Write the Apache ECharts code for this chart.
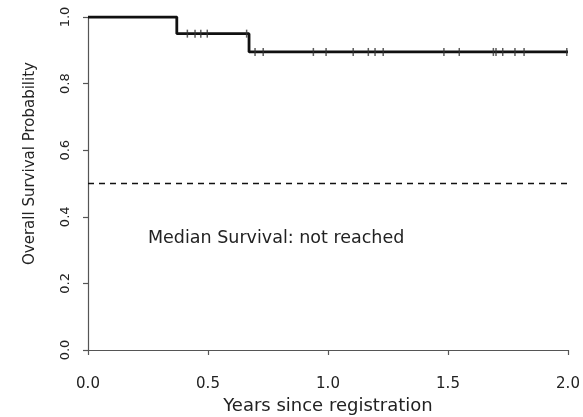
<!DOCTYPE html>
<html>
<head>
<meta charset="utf-8">
<script src="https://cdn.jsdelivr.net/npm/echarts@6/dist/echarts.min.js"></script>
<style>
  html, body { margin: 0; padding: 0; background: #fff; }
  #chart { width: 583px; height: 417px; }
</style>
</head>
<body>
<div id="chart"></div>
<script>
// Kaplan-Meier curve: times (years) where the step changes and the survival after it
const stepTimes = [0, 0.37, 0.671, 2.0]
const stepSurvival = [1.0, 0.95, 0.895, 0.895]
// censored patients (years since registration)
const censorTimes = [0.414, 0.446, 0.47, 0.497, 0.661, 0.696, 0.73, 0.939, 0.992, 1.105, 1.168,
  1.196, 1.23, 1.483, 1.547, 1.689, 1.70, 1.728, 1.779, 1.817, 1.995]
const xTickLabels = ['0.0', '0.5', '1.0', '1.5', '2.0']
const yTickLabels = ['0.0', '0.2', '0.4', '0.6', '0.8', '1.0']
const medianLevel = 0.5
const medianNote = 'Median Survival: not reached'

const font = 'DejaVu Sans'
const textColor = '#222'
const axisColor = '#555'

// survival level in force at time t
function survivalAt(t) {
  let s = stepSurvival[0]
  stepTimes.forEach((st, i) => {
    if (st <= t) s = stepSurvival[i]
  })
  return s
}

const chart = echarts.init(document.getElementById('chart'))
chart.setOption({
  animation: false,
  backgroundColor: '#fff',
  grid: {
    left: 88,
    right: 15,
    top: 17,
    bottom: 67,
    outerBoundsMode: 'none'
  },
  xAxis: {
    type: 'value',
    min: 0,
    max: 2,
    interval: 0.5,
    offset: 17,
    name: 'Years since registration',
    nameLocation: 'middle',
    nameGap: 28,
    nameTextStyle: { fontFamily: font, fontSize: 18, color: textColor },
    axisLine: { show: true, lineStyle: { color: axisColor, width: 1.2 } },
    axisTick: { show: true, length: 5, lineStyle: { color: axisColor, width: 1.2 } },
    splitLine: { show: false },
    axisLabel: {
      margin: 10,
      fontFamily: font,
      fontSize: 15,
      color: textColor,
      formatter: v => xTickLabels[Math.round(v / 0.5)]
    }
  },
  yAxis: {
    type: 'value',
    min: 0,
    max: 1,
    interval: 0.2,
    name: 'Overall Survival Probability',
    nameLocation: 'middle',
    nameGap: 50,
    nameRotate: 90,
    nameTextStyle: { fontFamily: font, fontSize: 15, color: textColor, padding: [0, 0, 0, 40] },
    axisLine: { show: true, lineStyle: { color: axisColor, width: 1.2 } },
    axisTick: { show: true, length: 5, lineStyle: { color: axisColor, width: 1.2 } },
    splitLine: { show: false },
    axisLabel: {
      margin: 16,
      rotate: 90,
      fontFamily: font,
      fontSize: 13,
      color: textColor,
      formatter: v => yTickLabels[Math.round(v / 0.2)]
    }
  },
  series: [
    {
      name: 'KM',
      type: 'line',
      step: 'end',
      showSymbol: false,
      data: stepTimes.map((t, i) => [t, stepSurvival[i]]),
      lineStyle: { color: '#111', width: 2.8 },
      markLine: {
        silent: true,
        symbol: 'none',
        label: { show: false },
        lineStyle: { color: '#111', width: 1.3, type: [6, 5] },
        data: [{ yAxis: medianLevel }]
      },
      z: 3
    },
    {
      name: 'censored',
      type: 'scatter',
      symbol: 'rect',
      symbolSize: [1.5, 8],
      itemStyle: { color: '#333' },
      data: censorTimes.map(t => [t, survivalAt(t)]),
      z: 4
    }
  ],
  graphic: [
    {
      type: 'text',
      x: 148,
      y: 238,
      style: {
        text: medianNote,
        font: '17.5px "DejaVu Sans"',
        fill: textColor,
        verticalAlign: 'middle'
      }
    }
  ]
})
</script>
</body>
</html>
